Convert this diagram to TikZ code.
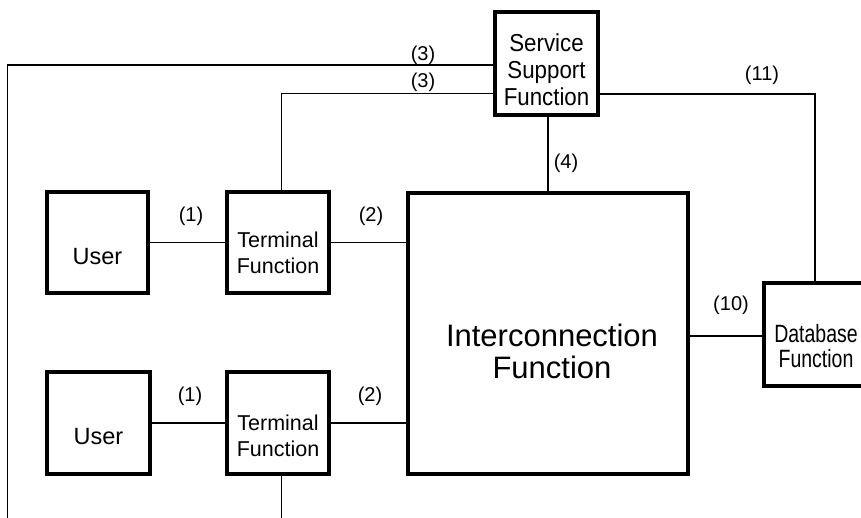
\documentclass[tikz,border=0pt]{standalone}
\usepackage{fontspec}
\setmainfont{Liberation Sans}
\newfontfamily\narrowsans[FakeStretch=0.78]{Liberation Sans}
\newfontfamily\slimsans[FakeStretch=0.91]{Liberation Sans}
\usetikzlibrary{calc}

\begin{document}
\begin{tikzpicture}[x=1pt,y=-1pt,
  fbox/.style={draw, line width=4pt, inner sep=0pt},
  conn/.style={line width=1.9pt},
  lbl/.style={inner sep=0pt, font=\fontsize{20}{24}\selectfont},
  usertxt/.style={inner sep=0pt, font=\fontsize{23.5}{28}\selectfont},
  termtxt/.style={inner sep=0pt, align=center, font=\fontsize{21.5}{26}\selectfont},
  ssftxt/.style={inner sep=0pt, align=center, font=\slimsans\fontsize{24.5}{27}\selectfont},
  dbtxt/.style={inner sep=0pt, align=center, font=\narrowsans\fontsize{25}{25}\selectfont},
  ictxt/.style={inner sep=0pt, align=center, font=\fontsize{31}{32}\selectfont}]

\useasboundingbox (0,0) rectangle (861,518);

% function blocks
\node[fbox, minimum width=103pt, minimum height=103pt] (ssf) at (546.5,63.5) {};
\node[fbox, minimum width=101pt, minimum height=101pt] (user1) at (97.5,242.5) {};
\node[fbox, minimum width=102pt, minimum height=101pt] (term1) at (278,242.5) {};
\node[fbox, minimum width=103pt, minimum height=102pt] (user2) at (98.5,423) {};
\node[fbox, minimum width=102pt, minimum height=102pt] (term2) at (278,423) {};
\node[fbox, minimum width=280pt, minimum height=281pt] (ic) at (548,333.5) {};
\node[fbox, minimum width=104pt, minimum height=103pt] (db) at (816,334.5) {};

% block texts
\node[ssftxt] (ssft) at ($(ssf)+(0,6.5)$) {Service\\Support\\Function};
\node[usertxt] (user1t) at ($(user1)+(0,14)$) {User};
\node[termtxt] (term1t) at ($(term1)+(0,10)$) {Terminal\\Function};
\node[usertxt] (user2t) at ($(user2)+(0,13.5)$) {User};
\node[termtxt] (term2t) at ($(term2)+(0,13)$) {Terminal\\Function};
\node[ictxt] (ict) at ($(ic)+(4,18)$) {Interconnection\\Function};
\node[dbtxt] (dbt) at ($(db)+(0,12)$) {Database\\Function};

% routing points
\coordinate (c3a) at (7.5,65);
\coordinate (c3end) at (7.5,520);
\coordinate (c3b) at (281.5,93.5);
\coordinate (c11) at (815,94);
\coordinate (c4) at (548,0);
\coordinate (c10) at (0,336);
\coordinate (c5) at (281.5,520);
\coordinate (ic2a) at ($(ic.west |- term1.east)+(4,0)$);

% interfaces
\draw[conn] (user1.east) -- (term1.west);
\draw[conn] (term1.east) -- (ic2a);
\draw[conn] (user2.east) -- (term2.west);
\draw[conn] (term2.east) -- (term2.east -| ic.west);
\draw[conn] (ssf.west |- c3a) -- (c3a) -- (c3end);
\draw[conn] (ssf.west |- c3b) -- (c3b) -- (c3b |- term1.north);
\draw[conn] (ssf.east |- c11) -- (c11) -- (c11 |- db.north);
\draw[conn] (c4 |- ssf.south) -- (c4 |- ic.north);
\draw[conn] (ic.east |- c10) -- (db.west |- c10);
\draw[conn] (c5 |- term2.south) -- (c5);

% interface labels
\node[lbl] (l3a) at (423,55) {(3)};
\node[lbl] (l3b) at (423,82) {(3)};
\node[lbl] (l11) at (762,75) {(11)};
\node[lbl] (l4) at (566,163) {(4)};
\node[lbl] (l1a) at (191,216) {(1)};
\node[lbl] (l2a) at (371,216) {(2)};
\node[lbl] (l1b) at (190,396) {(1)};
\node[lbl] (l2b) at (370,396) {(2)};
\node[lbl] (l10) at (731,305) {(10)};
\end{tikzpicture}
\end{document}
